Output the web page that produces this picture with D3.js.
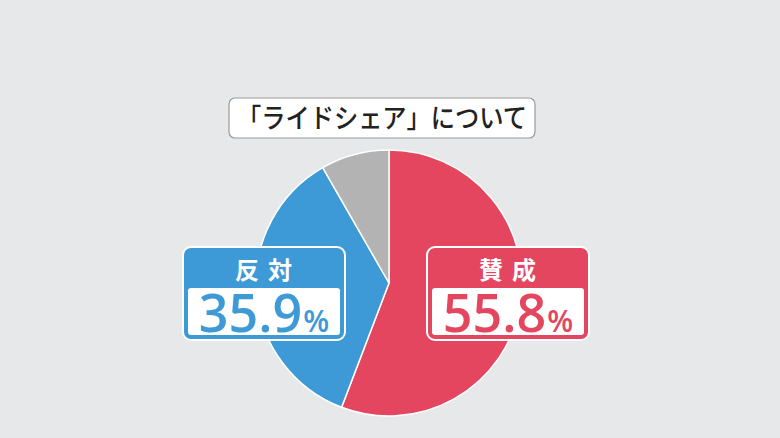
<!DOCTYPE html>
<html><head><meta charset="utf-8">
<script src="https://cdn.jsdelivr.net/npm/d3@7"></script>
<style>body{margin:0;background:#e6e8ea;}svg{display:block;}</style>
</head><body>
<script>
const categories = ["賛成", "反対", "その他"];
const values = [55.8, 35.9, 8.3];
const colors = ["#e4465f", "#3e9ad6", "#b3b3b3"];
const title = "「ライドシェア」について";

const W = 780, H = 438;
const svg = d3.select("body").append("svg").attr("width", W).attr("height", H);
svg.append("rect").attr("width", W).attr("height", H).attr("fill", "#e6e8ea");

const cx = 389, cy = 283, r = 133;
const pie = d3.pie().sort(null).value(d => d.v);
const arc = d3.arc().innerRadius(0).outerRadius(r);
const data = categories.map((c, i) => ({c, v: values[i], col: colors[i]}));
svg.append("g").attr("transform", `translate(${cx},${cy})`)
  .selectAll("path").data(pie(data)).join("path")
  .attr("d", arc).attr("fill", d => d.data.col)
  .attr("stroke", "#fff").attr("stroke-width", 1.5).attr("stroke-linejoin", "round");

// title box
const font = "'Noto Sans CJK JP', 'Noto Sans', sans-serif";
svg.append("rect").attr("x", 229).attr("y", 98).attr("width", 306).attr("height", 40)
  .attr("rx", 6).attr("fill", "#fff").attr("stroke", "#9a9a9a").attr("stroke-width", 1.2);
svg.append("text").attr("x", 237).attr("y", 128)
  .attr("font-family", font).attr("font-size", 27).attr("font-weight", 500)
  .attr("textLength", 290).attr("lengthAdjust", "spacingAndGlyphs")
  .attr("fill", "#222").text(title);

// labels
function label(x, i) {
  const col = colors[i];
  const g = svg.append("g").attr("transform", `translate(${x},247)`);
  const w = 162, h = 93;
  g.append("rect").attr("width", w).attr("height", h).attr("rx", 8).attr("fill", col)
    .attr("stroke", "#fff").attr("stroke-width", 2);
  g.append("rect").attr("x", 5).attr("y", 41).attr("width", w - 10).attr("height", h - 46)
    .attr("rx", 3).attr("fill", "#fff");
  g.append("text").attr("x", w / 2 + 4).attr("y", 32).attr("text-anchor", "middle")
    .attr("font-family", font).attr("font-size", 24).attr("font-weight", 700)
    .attr("letter-spacing", 9).attr("fill", "#fff").text(categories[i]);
  const t = g.append("text").attr("x", w / 2).attr("y", 85).attr("text-anchor", "middle")
    .attr("font-family", "'Open Sans', sans-serif").attr("font-weight", 600).attr("fill", col);
  t.append("tspan").attr("font-size", 52).text(values[i].toFixed(1));
  t.append("tspan").attr("font-size", 30).attr("dx", 1).text("%");
}
label(183, 1);
label(427, 0);
</script>
</body></html>
